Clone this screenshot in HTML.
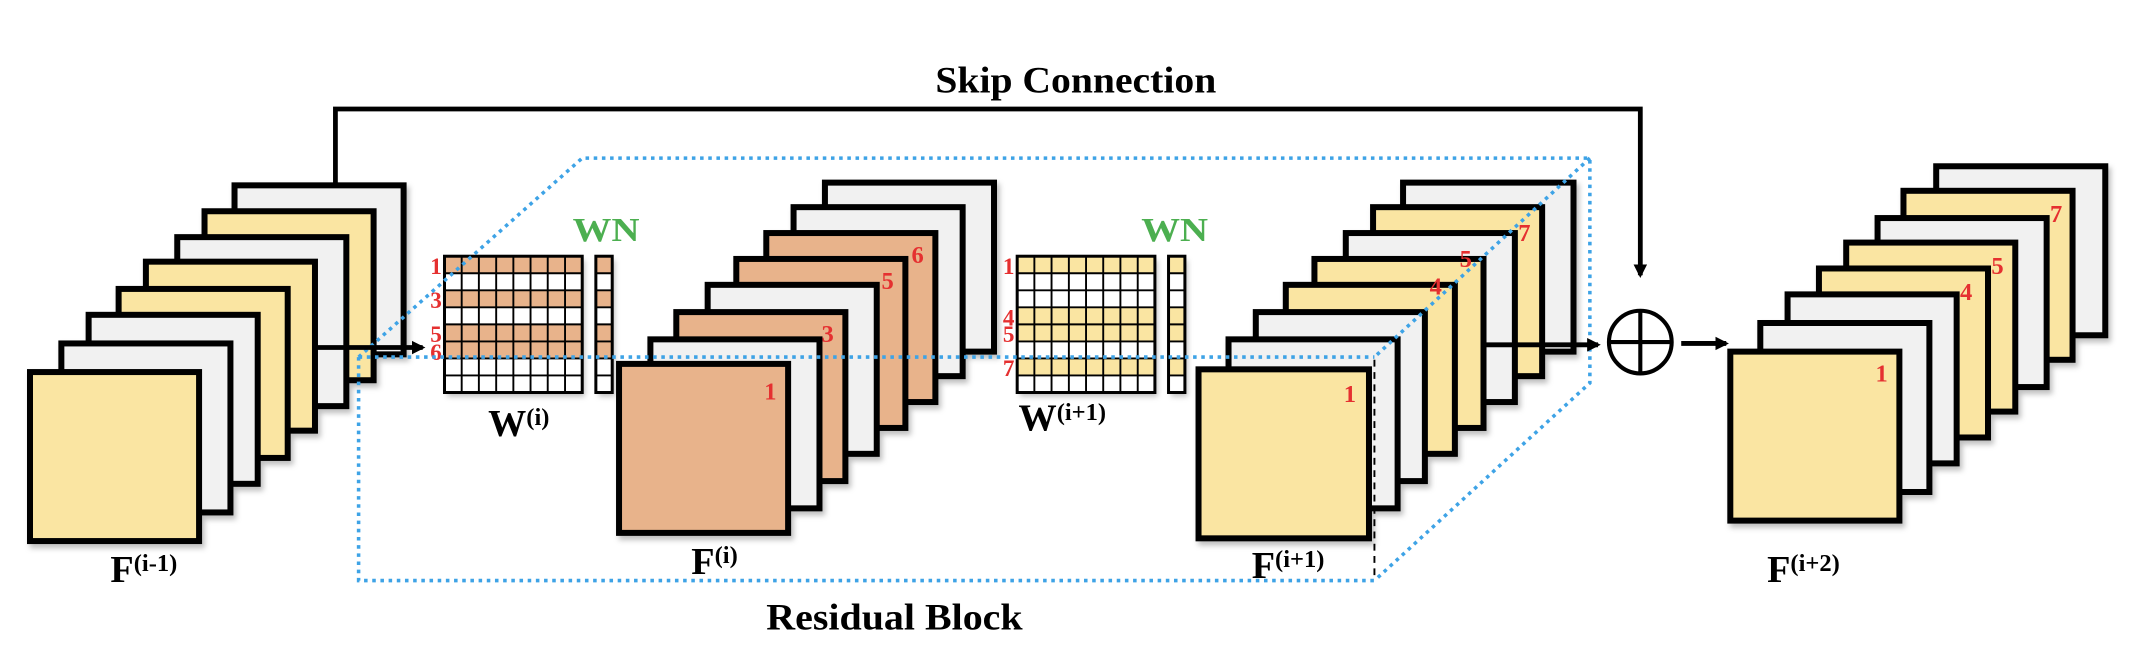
<!DOCTYPE html>
<html><head><meta charset="utf-8"><style>
html,body{margin:0;padding:0;background:#fff;}
svg{display:block;}
text{font-family:"Liberation Serif",serif;font-weight:bold;}
</style></head><body>
<svg width="2138" height="646" viewBox="0 0 1568 474" preserveAspectRatio="none" xmlns="http://www.w3.org/2000/svg">
<defs>
<marker id="ah" markerWidth="10" markerHeight="10" refX="8" refY="5" orient="auto" markerUnits="userSpaceOnUse">
<path d="M0,0 L10,5 L0,10 z" fill="#000"/></marker>
<filter id="sh" x="-10%" y="-10%" width="130%" height="130%"><feDropShadow dx="2" dy="3" stdDeviation="2" flood-color="#000" flood-opacity="0.25"/></filter>
</defs>
<g stroke="#000" stroke-width="4.4" filter="url(#sh)">
<rect x="172" y="136" width="124" height="124" fill="#f1f1f1"/>
<rect x="150" y="155" width="124" height="124" fill="#fae5a2"/>
<rect x="130" y="174" width="124" height="124" fill="#f1f1f1"/>
<rect x="107" y="192" width="124" height="124" fill="#fae5a2"/>
<rect x="87" y="212" width="124" height="124" fill="#fae5a2"/>
<rect x="65" y="231" width="124" height="124" fill="#f1f1f1"/>
<rect x="45" y="252" width="124" height="124" fill="#f1f1f1"/>
<rect x="22" y="273" width="124" height="124" fill="#fae5a2"/>
<rect x="605" y="134" width="124" height="124" fill="#f1f1f1"/>
<rect x="582" y="152" width="124" height="124" fill="#f1f1f1"/>
<rect x="562" y="171" width="124" height="124" fill="#e8b38b"/>
<rect x="540" y="190" width="124" height="124" fill="#e8b38b"/>
<rect x="519" y="209" width="124" height="124" fill="#f1f1f1"/>
<rect x="496" y="229" width="124" height="124" fill="#e8b38b"/>
<rect x="477" y="249" width="124" height="124" fill="#f1f1f1"/>
<rect x="454" y="267" width="124" height="124" fill="#e8b38b"/>
<rect x="1029" y="134" width="125" height="124" fill="#f1f1f1"/>
<rect x="1007" y="152" width="124" height="124" fill="#fae5a2"/>
<rect x="987" y="171" width="124" height="124" fill="#f1f1f1"/>
<rect x="964" y="190" width="124" height="124" fill="#fae5a2"/>
<rect x="943" y="209" width="124" height="124" fill="#fae5a2"/>
<rect x="921" y="229" width="124" height="124" fill="#f1f1f1"/>
<rect x="901" y="249" width="124" height="124" fill="#f1f1f1"/>
<rect x="879" y="271" width="125" height="124" fill="#fae5a2"/>
<rect x="1420" y="122" width="124" height="124" fill="#f1f1f1"/>
<rect x="1396" y="140" width="124" height="124" fill="#fae5a2"/>
<rect x="1377" y="160" width="124" height="124" fill="#f1f1f1"/>
<rect x="1354" y="178" width="124" height="124" fill="#fae5a2"/>
<rect x="1334" y="197" width="124" height="124" fill="#fae5a2"/>
<rect x="1311" y="216" width="124" height="124" fill="#f1f1f1"/>
<rect x="1291" y="237" width="124" height="124" fill="#f1f1f1"/>
<rect x="1269" y="258" width="124" height="124" fill="#fae5a2"/>
</g>
<g fill="#e53030" font-size="18" text-anchor="middle">
<text x="565" y="293">1</text>
<text x="607" y="251">3</text>
<text x="651" y="212">5</text>
<text x="673" y="193">6</text>
<text x="990" y="295">1</text>
<text x="1053" y="216">4</text>
<text x="1075" y="196">5</text>
<text x="1118" y="177">7</text>
<text x="1380" y="280">1</text>
<text x="1442" y="220">4</text>
<text x="1465" y="201">5</text>
<text x="1508" y="163">7</text>
</g>
<g filter="url(#sh)">
<rect x="326" y="188" width="101" height="100" fill="#fff"/>
<rect x="437" y="188" width="12" height="100" fill="#fff"/>
<rect x="746" y="188" width="101" height="100" fill="#fff"/>
<rect x="857" y="188" width="12" height="100" fill="#fff"/>
</g>
<g fill="#e8b38b">
<rect x="326" y="188" width="101" height="12.5"/><rect x="326" y="213" width="101" height="12.5"/>
<rect x="326" y="238" width="101" height="25"/>
<rect x="437" y="188" width="12" height="12.5"/><rect x="437" y="213" width="12" height="12.5"/>
<rect x="437" y="238" width="12" height="25"/>
</g>
<g fill="#fae5a2">
<rect x="746" y="188" width="101" height="12.5"/><rect x="746" y="225.5" width="101" height="25"/>
<rect x="746" y="263" width="101" height="12.5"/>
<rect x="857" y="188" width="12" height="12.5"/><rect x="857" y="225.5" width="12" height="25"/>
<rect x="857" y="263" width="12" height="12.5"/>
</g>
<g stroke="#000" stroke-width="1.4" fill="none">
<path d="M326,200.5H427M326,213H427M326,225.5H427M326,238H427M326,250.5H427M326,263H427M326,275.5H427
M338.6,188V288M351.2,188V288M363.9,188V288M376.5,188V288M389.1,188V288M401.7,188V288M414.4,188V288
M437,200.5H449M437,213H449M437,225.5H449M437,238H449M437,250.5H449M437,263H449M437,275.5H449"/>
<path d="M746,200.5H847M746,213H847M746,225.5H847M746,238H847M746,250.5H847M746,263H847M746,275.5H847
M758.6,188V288M771.2,188V288M783.9,188V288M796.5,188V288M809.1,188V288M821.7,188V288M834.4,188V288
M857,200.5H869M857,213H869M857,225.5H869M857,238H869M857,250.5H869M857,263H869M857,275.5H869"/>
<g stroke-width="2.2">
<rect x="326" y="188" width="101" height="100"/><rect x="437" y="188" width="12" height="100"/>
<rect x="746" y="188" width="101" height="100"/><rect x="857" y="188" width="12" height="100"/>
</g>
</g>
<g fill="#e53030" font-size="17" text-anchor="end">
<text x="324" y="201">1</text><text x="324" y="226">3</text><text x="324" y="251">5</text><text x="324" y="264">6</text>
<text x="744" y="201">1</text><text x="744" y="239">4</text><text x="744" y="251">5</text><text x="744" y="276">7</text>
</g>
<g fill="#4caf50" font-size="25">
<text x="420" y="177" textLength="49" lengthAdjust="spacingAndGlyphs">WN</text>
<text x="837" y="177" textLength="49" lengthAdjust="spacingAndGlyphs">WN</text>
</g>
<g stroke="#3ea3e6" stroke-width="2.6" fill="none" stroke-dasharray="2.6 3.4">
<path d="M263,262 L263,426 L1008,426"/>
<path d="M263,262 L1008,262"/>
<path d="M263,262 L427,116 L1166,116 L1166,281 L1008,426"/>
<path d="M1166,116 L1008,262"/>
</g>
<path d="M1008,264 V424" stroke="#000" stroke-width="1.4" stroke-dasharray="5 4"/>
<path d="M246,136 V80 H1203 V202" fill="none" stroke="#000" stroke-width="3.5" marker-end="url(#ah)"/>
<line x1="232" y1="255" x2="310" y2="255" stroke="#000" stroke-width="3.5" marker-end="url(#ah)"/>
<line x1="1090" y1="253" x2="1172" y2="253" stroke="#000" stroke-width="3.5" marker-end="url(#ah)"/>
<line x1="1233" y1="252" x2="1266" y2="252" stroke="#000" stroke-width="3.5" marker-end="url(#ah)"/>
<g stroke="#000" stroke-width="3" fill="#fff">
<circle cx="1203" cy="251" r="23"/>
<path d="M1180,251H1226M1203,228V274" fill="none"/>
</g>
<g fill="#000">
<text x="686" y="68" font-size="27" textLength="206" lengthAdjust="spacingAndGlyphs">Skip Connection</text>
<text x="562" y="462" font-size="27" textLength="188" lengthAdjust="spacingAndGlyphs">Residual Block</text>
<text x="81" y="427" font-size="28">F<tspan font-size="18" dy="-8">(i-1)</tspan></text>
<text x="358" y="320" font-size="28">W<tspan font-size="18" dy="-8">(i)</tspan></text>
<text x="507" y="421" font-size="28">F<tspan font-size="18" dy="-8">(i)</tspan></text>
<text x="747" y="316" font-size="28">W<tspan font-size="18" dy="-8">(i+1)</tspan></text>
<text x="918" y="424" font-size="28">F<tspan font-size="18" dy="-8">(i+1)</tspan></text>
<text x="1296" y="427" font-size="28">F<tspan font-size="18" dy="-8">(i+2)</tspan></text>
</g>
</svg>
</body></html>
